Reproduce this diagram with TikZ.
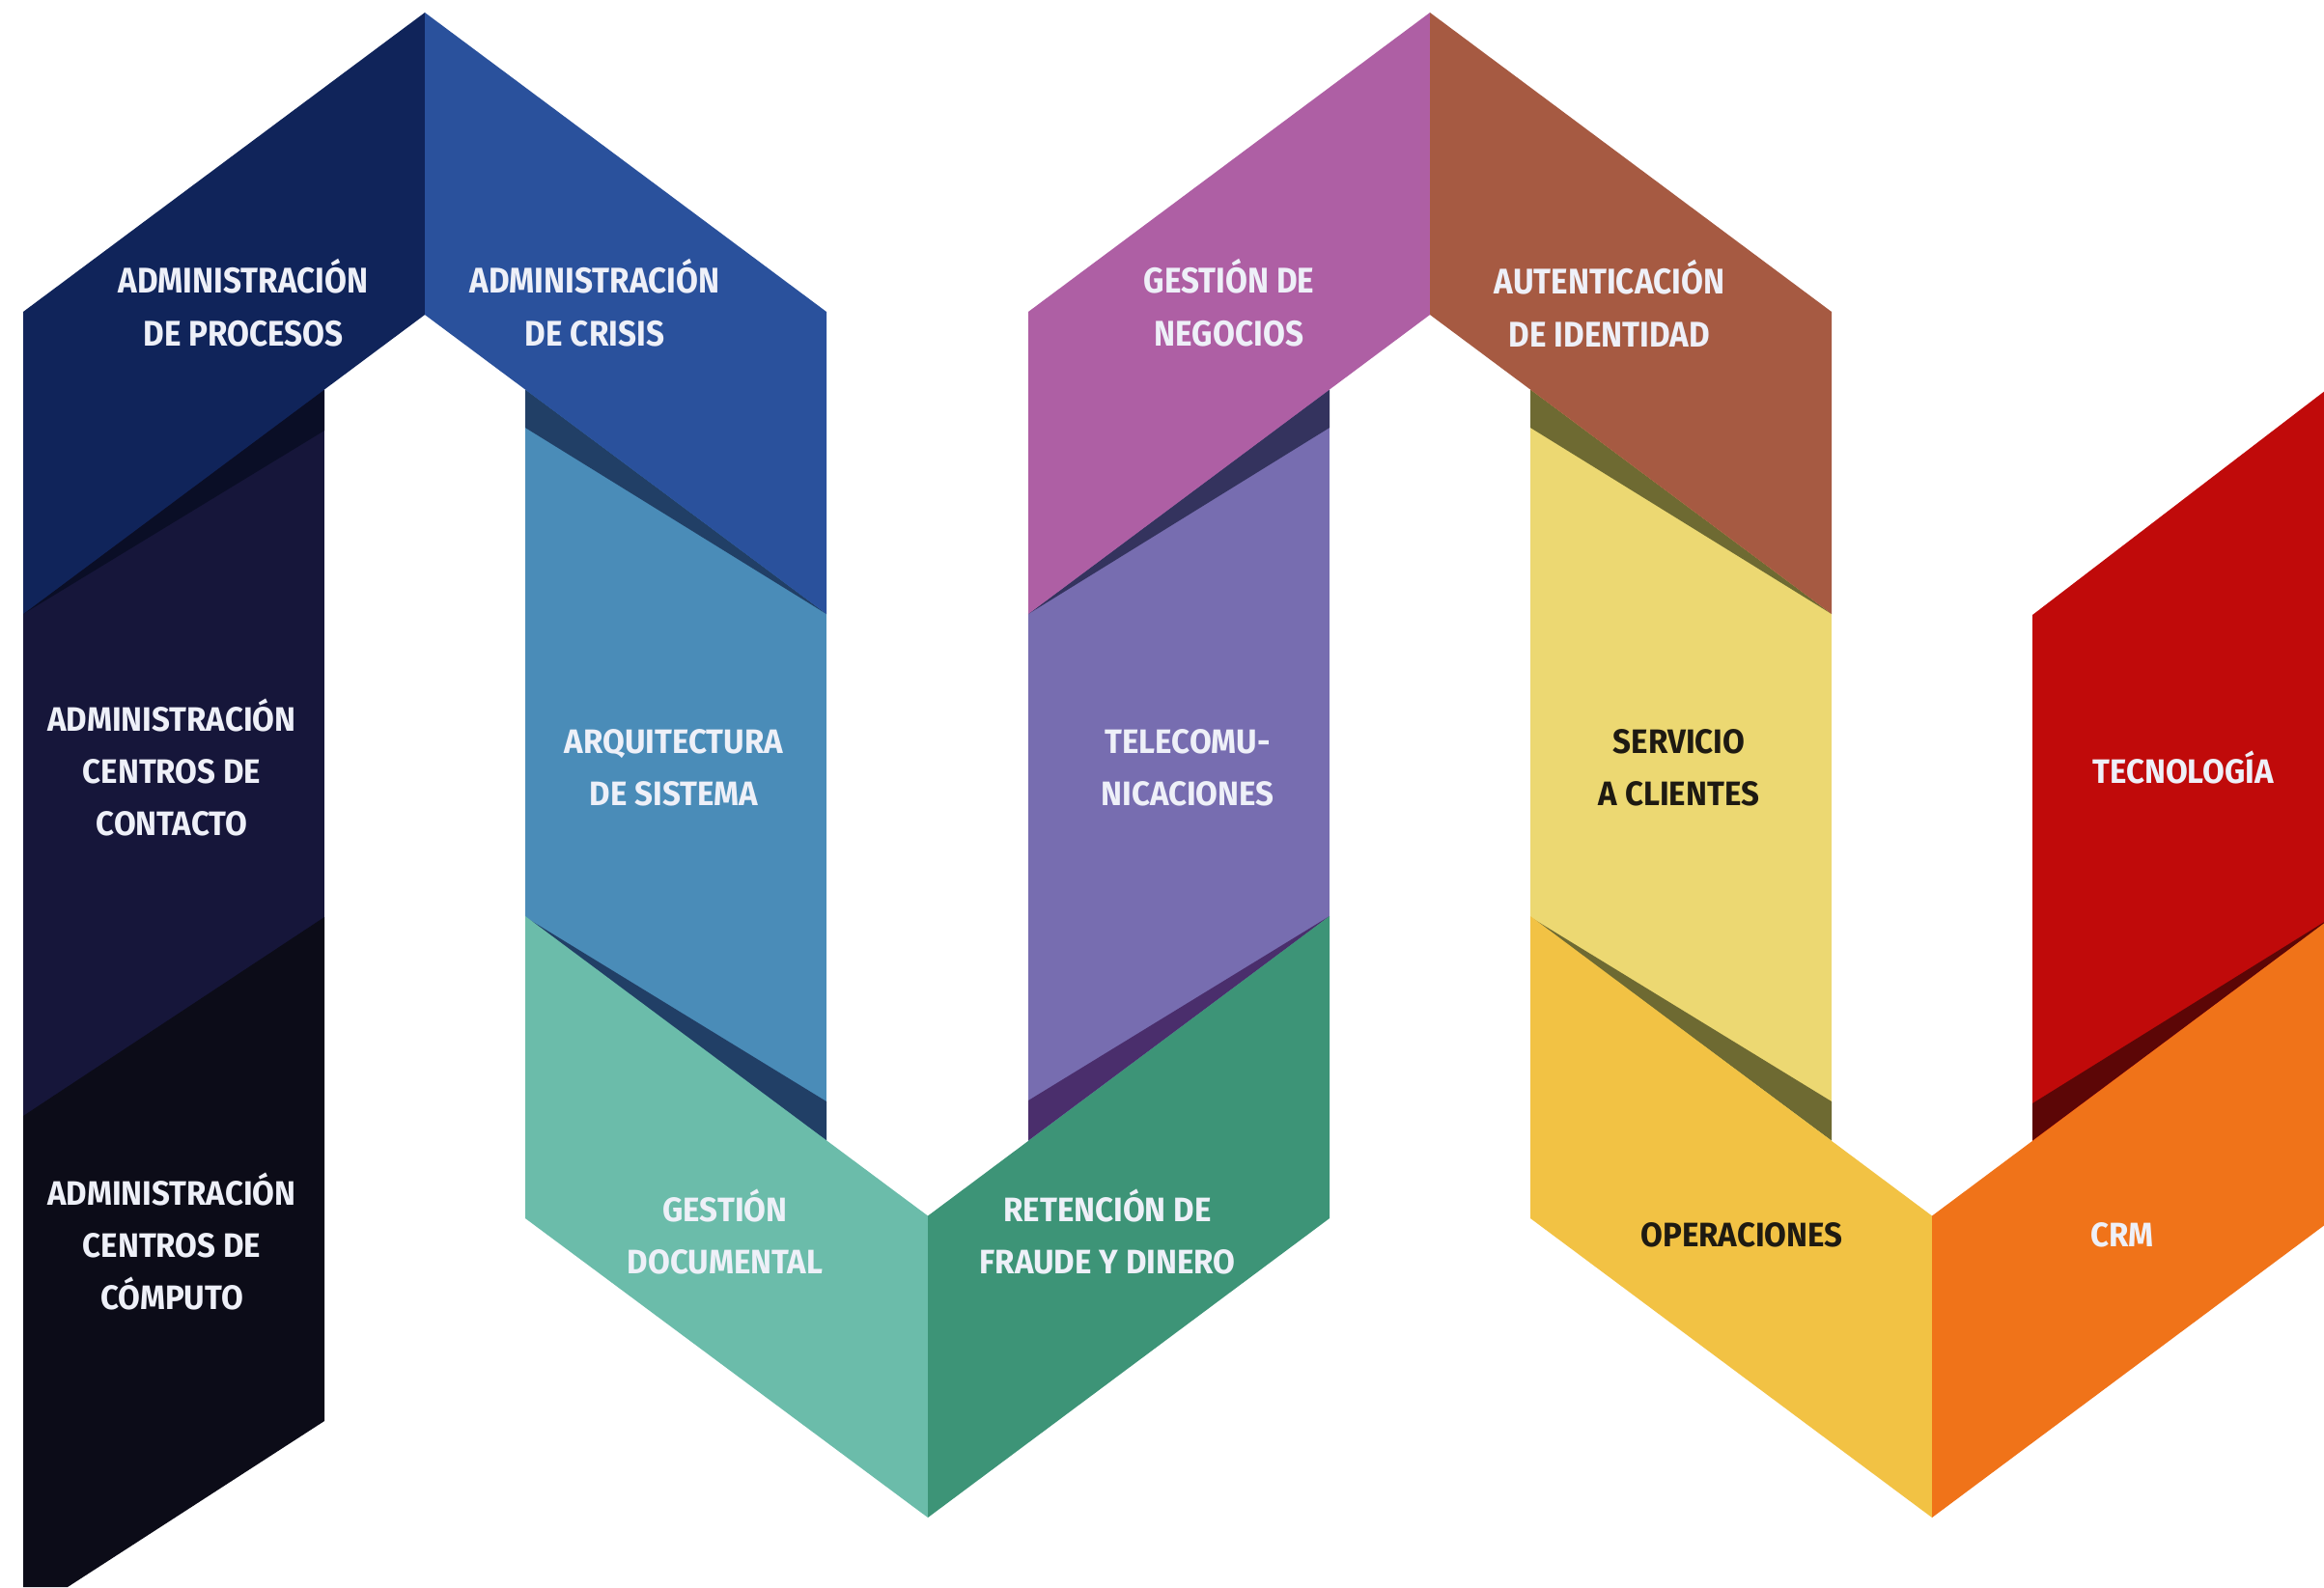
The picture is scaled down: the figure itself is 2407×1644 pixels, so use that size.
\documentclass[tikz,border=0pt]{standalone}
\usepackage{fontspec}
\newfontfamily\lblfont{Fira Sans}[FakeStretch=0.94]
\newfontfamily\topfont{Fira Sans}[FakeStretch=0.9]
\definecolor{cProc}{HTML}{10245A}
\definecolor{cCont}{HTML}{16163A}
\definecolor{cComp}{HTML}{0C0C18}
\definecolor{cCris}{HTML}{2A519C}
\definecolor{cArq}{HTML}{4A8CB8}
\definecolor{cDoc}{HTML}{6BBCAA}
\definecolor{cRet}{HTML}{3D9477}
\definecolor{cTel}{HTML}{776DB0}
\definecolor{cNeg}{HTML}{AE5FA4}
\definecolor{cAut}{HTML}{A65A42}
\definecolor{cServ}{HTML}{ECD872}
\definecolor{cOper}{HTML}{F2C244}
\definecolor{cCrm}{HTML}{F07319}
\definecolor{cTec}{HTML}{C00A0A}
\definecolor{shA}{HTML}{0A0E26}
\definecolor{shB}{HTML}{213F66}
\definecolor{shC}{HTML}{34335E}
\definecolor{shCb}{HTML}{4A2E6C}
\definecolor{shD}{HTML}{6E6A32}
\definecolor{shE}{HTML}{5C0606}
\definecolor{txtLight}{HTML}{EEF0F8}
\definecolor{txtDark}{HTML}{1E1A12}
\tikzset{
  lbl/.style={align=center, inner sep=0pt, text=txtLight,
    font=\lblfont\bfseries\fontsize{10}{15.3}\selectfont},
  toplbl/.style={lbl, font=\topfont\bfseries\fontsize{10.5}{15.6}\selectfont},
  darklbl/.style={lbl, text=txtDark},
}
\begin{document}
\begin{tikzpicture}[x=0.01cm,y=-0.01cm]
\useasboundingbox (0,0) rectangle (2407,1644);
\clip (0,0) rectangle (2407,1644);
% ---------- column bodies ----------
\fill[cCont] (24,404) rectangle (336,1160);
\fill[cComp] (24,1156) -- (336,950) -- (336,1472) -- (70,1644) -- (24,1644) -- cycle;
\fill[cArq]  (544,404) rectangle (856,1182);
\fill[cTel]  (1065,404) rectangle (1377,1182);
\fill[cServ] (1585,404) rectangle (1897,1182);
\fill[cTec]  (2105,637) -- (2430,388) -- (2430,1182) -- (2105,1182) -- cycle;
% ---------- fold shadows ----------
\fill[shA]  (24,636) -- (336,403.5) -- (336,446) -- cycle;
\fill[shB]  (544,403.5) -- (544,443) -- (856,636) -- cycle;
\fill[shB]  (544,950) -- (856,1141) -- (856,1181.5) -- cycle;
\fill[shC]  (1065,636) -- (1377,403.5) -- (1377,443) -- cycle;
\fill[shCb] (1065,1140) -- (1065,1181.5) -- (1377,949) -- cycle;
\fill[shD]  (1585,403.5) -- (1585,443) -- (1897,636) -- cycle;
\fill[shD]  (1585,950) -- (1897,1141) -- (1897,1181.5) -- cycle;
\fill[shE]  (2105,1143) -- (2105,1181.5) -- (2417,949) -- cycle;
% ---------- chevrons (peaks) ----------
\fill[cProc] (24,323) -- (440,13) -- (440,326) -- (24,636) -- cycle;
\fill[cCris] (440,13) -- (856,323) -- (856,636) -- (440,326) -- cycle;
\fill[cNeg]  (1065,323) -- (1481,13) -- (1481,326) -- (1065,636) -- cycle;
\fill[cAut]  (1481,13) -- (1897,323) -- (1897,636) -- (1481,326) -- cycle;
% ---------- chevrons (valleys) ----------
\fill[cDoc]  (544,949) -- (961,1259.5) -- (961,1572) -- (544,1262) -- cycle;
\fill[cRet]  (961,1259.5) -- (1377,949) -- (1377,1262) -- (961,1572) -- cycle;
\fill[cOper] (1585,949) -- (2001,1259.5) -- (2001,1572) -- (1585,1262) -- cycle;
\fill[cCrm]  (2001,1259.5) -- (2417,949) -- (2417,1262) -- (2001,1572) -- cycle;
% ---------- labels ----------
\node[toplbl] (lProc) at (252,314) {ADMINISTRACIÓN\\DE PROCESOS};
\node[toplbl] (lCris) at (616,314) {ADMINISTRACIÓN\\DE CRISIS};
\node[lbl] (lCont) at (178,795) {ADMINISTRACIÓN\\CENTROS DE\\CONTACTO};
\node[lbl] (lComp) at (178,1286) {ADMINISTRACIÓN\\CENTROS DE\\CÓMPUTO};
\node[lbl] (lArq) at (698,795) {ARQUITECTURA\\DE SISTEMA};
\node[lbl] (lDoc) at (751,1276) {GESTIÓN\\DOCUMENTAL};
\node[lbl] (lRet) at (1147,1276) {RETENCIÓN DE\\FRAUDE Y DINERO};
\node[lbl] (lTel) at (1230,795) {TELECOMU-\\NICACIONES};
\node[toplbl] (lNeg) at (1273,314) {GESTIÓN DE\\NEGOCIOS};
\node[toplbl] (lAut) at (1667,314) {AUTENTICACIÓN\\DE IDENTIDAD};
\node[darklbl] (lServ) at (1739,795) {SERVICIO\\A CLIENTES};
\node[darklbl] (lOper) at (1804,1279) {OPERACIONES};
\node[lbl] (lTec) at (2261,795) {TECNOLOGÍA};
\node[lbl] (lCrm) at (2198,1279) {CRM};
\end{tikzpicture}
\end{document}
